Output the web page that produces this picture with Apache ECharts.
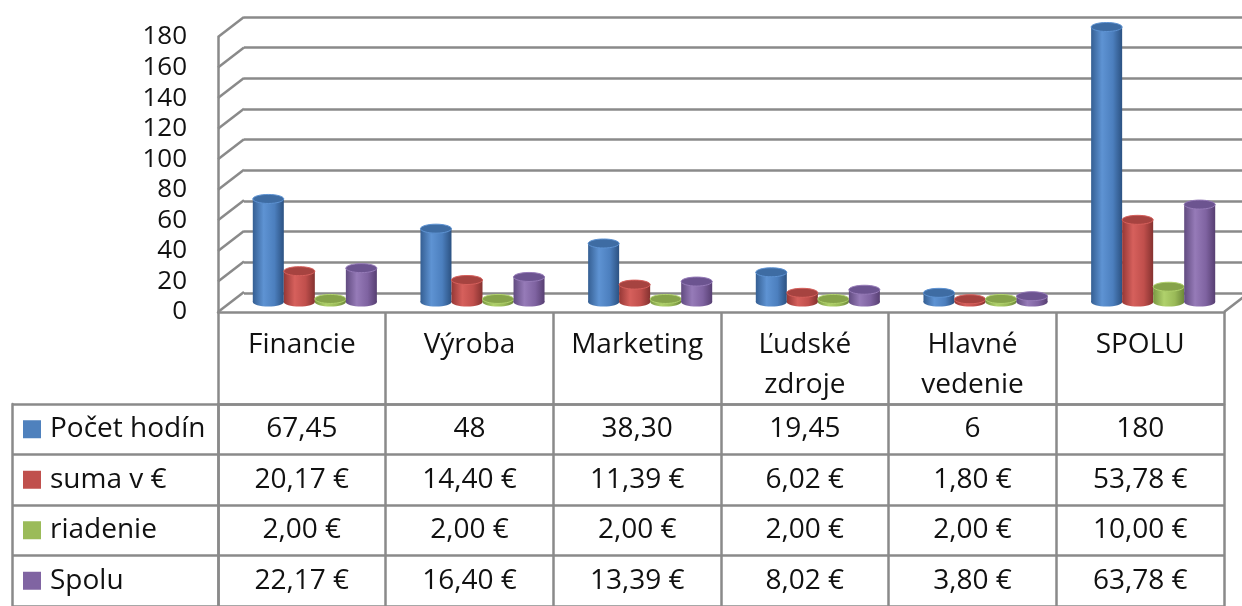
<!DOCTYPE html>
<html>
<head>
<meta charset="utf-8">
<script src="https://cdn.jsdelivr.net/npm/echarts@6/dist/echarts.min.js"></script>
<style>
  html, body { margin: 0; padding: 0; background: #fff; }
  #chart { width: 1242px; height: 606px; }
</style>
</head>
<body>
<div id="chart"></div>
<script>
// kategórie a hodnoty
const categories = ['Financie', 'Výroba', 'Marketing', 'Ľudské\nzdroje', 'Hlavné\nvedenie', 'SPOLU']
const seriesNames = ['Počet hodín', 'suma v €', 'riadenie', 'Spolu']
const pocetHodin = [67.45, 48, 38.30, 19.45, 6, 180]
const sumaEur = [20.17, 14.40, 11.39, 6.02, 1.80, 53.78]
const riadenie = [2.00, 2.00, 2.00, 2.00, 2.00, 10.00]
const spolu = [22.17, 16.40, 13.39, 8.02, 3.80, 63.78]
const yTicks = [0, 20, 40, 60, 80, 100, 120, 140, 160, 180]

const allSeries = [pocetHodin, sumaEur, riadenie, spolu]
const colors = ['#4F81BD', '#C0504D', '#9BBB59', '#8064A2']
const shades = [
  ['#355F93', '#5E93D3', '#4C7FBE', '#2C5282', '#3E6CA3'],
  ['#963836', '#D6605C', '#C04F4C', '#853230', '#A64340'],
  ['#7A9843', '#B0D16C', '#9ABA58', '#6C8739', '#86A34A'],
  ['#614B80', '#967BB8', '#7F63A1', '#573F72', '#6C5490']
]
const gridColor = '#8a8a8a'
const font = 'Open Sans'
const depth = [26, -20]

function fmtHours(v) {
  return Number.isInteger(v) ? String(v) : v.toFixed(2).replace('.', ',')
}
function fmtEur(v) {
  return v.toFixed(2).replace('.', ',') + ' €'
}

function cylinder(si) {
  const s = shades[si]
  const body = new echarts.graphic.LinearGradient(0, 0, 1, 0, [
    { offset: 0, color: s[0] },
    { offset: 0.35, color: s[1] },
    { offset: 0.7, color: s[2] },
    { offset: 1, color: s[3] }
  ])
  return function (params, api) {
    const cat = api.value(0)
    const base = api.coord([cat, 0])
    const top = api.coord([cat, api.value(1)])
    const band = api.size([1, 0])[0]
    const w = band * 0.185
    const cx = base[0] + (si - 1.5) * w
    const ry = 4.5
    return {
      type: 'group',
      children: [
        { type: 'ellipse', shape: { cx, cy: base[1], rx: w / 2, ry }, style: { fill: body } },
        { type: 'rect', shape: { x: cx - w / 2, y: top[1], width: w, height: base[1] - top[1] }, style: { fill: body } },
        { type: 'ellipse', shape: { cx, cy: top[1], rx: w / 2, ry }, style: { fill: s[4], stroke: s[1], lineWidth: 1 } }
      ]
    }
  }
}

// bunky tabuľky
const cells = []
allSeries.forEach((arr, r) => {
  arr.forEach((v, c) => {
    cells.push([c, r, r === 0 ? fmtHours(v) : fmtEur(v)])
  })
})

const chart = echarts.init(document.getElementById('chart'))

const hiddenAxis = { show: false }

const option = {
  animation: false,
  backgroundColor: '#fff',
  textStyle: { fontFamily: font },
  grid: [
    // stĺpce (stredná rovina)
    { left: 218 + depth[0] / 2, width: 1006, top: 27, height: 275 },
    // zadná stena
    { left: 218 + depth[0], width: 1006, top: 17, height: 276 },
    // predná os
    { left: 218, width: 1006, top: 37, height: 275 },
    // tabuľka
    { left: 218, width: 1006, top: 404, height: 204 }
  ],
  xAxis: [
    { gridIndex: 0, type: 'category', data: categories, show: false },
    { gridIndex: 1, type: 'category', data: categories, show: false },
    {
      gridIndex: 2,
      type: 'category',
      data: categories,
      axisLine: { show: true, lineStyle: { color: gridColor, width: 2.5 } },
      axisTick: { show: true, length: 300, lineStyle: { color: gridColor, width: 2.5 } },
      axisLabel: {
        color: '#111',
        fontFamily: font,
        fontSize: 28,
        lineHeight: 40,
        verticalAlign: 'top',
        margin: 13,
        interval: 0
      }
    },
    {
      gridIndex: 3,
      type: 'category',
      data: categories,
      position: 'top',
      axisLine: { show: true, lineStyle: { color: gridColor, width: 2.5 } },
      axisTick: { show: false },
      axisLabel: { show: false }
    }
  ],
  yAxis: [
    { gridIndex: 0, type: 'value', min: 0, max: 180, show: false },
    {
      gridIndex: 1,
      type: 'value',
      min: 0,
      max: 180,
      interval: 20,
      axisLine: { show: false },
      axisTick: { show: false },
      axisLabel: { show: false },
      splitLine: { show: true, lineStyle: { color: gridColor, width: 2.5 } }
    },
    {
      gridIndex: 2,
      type: 'value',
      min: 0,
      max: 180,
      interval: 20,
      axisLine: { show: true, lineStyle: { color: gridColor, width: 2.5 } },
      axisTick: { show: false },
      splitLine: { show: false },
      axisLabel: { color: '#111', fontFamily: font, fontSize: 26, margin: 31 }
    },
    {
      gridIndex: 3,
      type: 'category',
      data: seriesNames,
      inverse: true,
      axisLine: { show: true, lineStyle: { color: gridColor, width: 2.5 } },
      axisTick: { show: true, length: 206, interval: 0, lineStyle: { color: gridColor, width: 2.5 } },
      splitLine: { show: true, interval: 0, lineStyle: { color: gridColor, width: 2.5 } },
      axisLabel: {
        align: 'left',
        margin: 195,
        interval: 0,
        formatter: (val, idx) => `{s${idx}|}{t|${val}}`,
        rich: {
          s0: { width: 18, height: 18, backgroundColor: colors[0] },
          s1: { width: 18, height: 18, backgroundColor: colors[1] },
          s2: { width: 18, height: 18, backgroundColor: colors[2] },
          s3: { width: 18, height: 18, backgroundColor: colors[3] },
          t: { color: '#111', fontFamily: font, fontSize: 28, padding: [0, 0, 0, 9] }
        }
      }
    },
    {
      gridIndex: 3,
      type: 'category',
      data: seriesNames,
      inverse: true,
      position: 'left',
      offset: 206,
      axisLine: { show: true, lineStyle: { color: gridColor, width: 2.5 } },
      axisTick: { show: false },
      axisLabel: { show: false }
    }
  ],
  series: [
    // ľavá bočná stena – spojnice prednej a zadnej roviny
    {
      type: 'custom',
      xAxisIndex: 2,
      yAxisIndex: 2,
      data: yTicks.map((v) => [0, v]),
      silent: true,
      z: 1,
      renderItem(params, api) {
        const p = api.coord([0, api.value(1)])
        const x0 = params.coordSys.x
        return {
          type: 'line',
          shape: { x1: x0, y1: p[1], x2: x0 + depth[0], y2: p[1] + depth[1] },
          style: { stroke: gridColor, lineWidth: 2.5 }
        }
      }
    },
    // pravý okraj podlahy
    {
      type: 'custom',
      xAxisIndex: 2,
      yAxisIndex: 2,
      data: [[5, 0]],
      silent: true,
      z: 1,
      renderItem(params, api) {
        const p = api.coord([5, 0])
        const x0 = params.coordSys.x + params.coordSys.width
        return {
          type: 'line',
          shape: { x1: x0, y1: p[1], x2: x0 + depth[0], y2: p[1] + depth[1] },
          style: { stroke: gridColor, lineWidth: 2.5 }
        }
      }
    },
    ...allSeries.map((arr, si) => ({
      name: seriesNames[si],
      type: 'custom',
      xAxisIndex: 0,
      yAxisIndex: 0,
      z: 5,
      data: arr.map((v, i) => [i, v]),
      encode: { x: 0, y: 1 },
      renderItem: cylinder(si)
    })),
    // texty v tabuľke
    {
      type: 'custom',
      xAxisIndex: 3,
      yAxisIndex: 3,
      data: cells,
      silent: true,
      renderItem(params, api) {
        const p = api.coord([api.value(0), api.value(1)])
        return {
          type: 'text',
          style: {
            text: cells[params.dataIndex][2],
            x: p[0],
            y: p[1],
            align: 'center',
            verticalAlign: 'middle',
            font: `28px "${font}"`,
            fill: '#111'
          }
        }
      }
    }
  ]
}

chart.setOption(option)
</script>
</body>
</html>
